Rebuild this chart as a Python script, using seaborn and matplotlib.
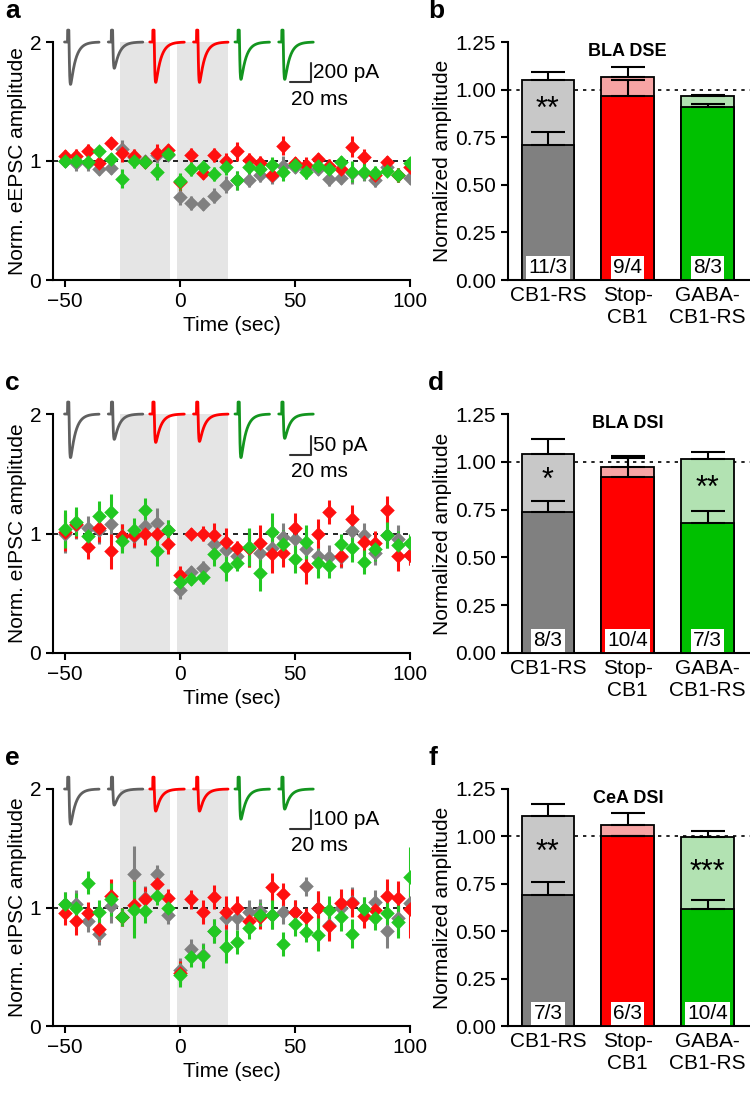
import numpy as np
import pandas as pd
import matplotlib
matplotlib.use("Agg")
import matplotlib.pyplot as plt
import seaborn as sns

sns.set_style("ticks")
plt.rcParams['font.family'] = ['Liberation Sans', 'DejaVu Sans']
plt.rcParams['text.color'] = 'black'
plt.rcParams['axes.labelcolor'] = 'black'
plt.rcParams['xtick.color'] = 'black'
plt.rcParams['ytick.color'] = 'black'
plt.rcParams['axes.edgecolor'] = 'black'

time = [-50, -45, -40, -35, -30, -25, -20, -15, -10, -5] + list(range(0, 101, 5))

# Panel a (eEPSC BLA DSE)
a_grey = [1.0,0.98,0.98,0.93,0.94,1.10,1.03,1.0,1.05,1.05, 0.70,0.65,0.64,0.71,0.80,0.84,0.84,0.88,0.87,0.96,0.95,0.93,0.93,0.85,0.86,0.90,0.90,0.84,0.95,0.88,0.86]
a_red = [1.04,1.04,1.08,0.98,1.15,1.07,1.04,0.99,1.07,1.09, 0.82,1.05,0.90,1.05,1.00,1.08,1.01,0.98,0.88,1.13,0.98,0.97,1.02,0.96,0.93,1.12,1.03,0.88,0.99,0.88,0.95]
a_green = [1.0,1.0,0.99,1.08,1.02,0.85,1.0,0.99,0.91,1.06, 0.83,0.93,0.95,0.89,0.95,0.84,0.95,0.93,0.97,0.91,0.97,0.91,0.96,0.93,0.99,0.91,0.91,0.90,0.92,0.88,0.98]
a_err = [0.05,0.06,0.06,0.05,0.05,0.08,0.06,0.05,0.07,0.05, 0.07,0.06,0.05,0.06,0.07,0.08,0.06,0.06,0.06,0.08,0.05,0.06,0.05,0.06,0.05,0.09,0.07,0.06,0.05,0.06,0.05]

# Panel c (eIPSC BLA DSI)
c_grey = [1.0,1.07,1.05,1.03,1.08,0.98,0.98,1.06,1.09,1.03, 0.53,0.68,0.71,0.91,0.86,0.81,0.88,0.84,0.88,0.97,0.95,0.87,0.81,0.80,0.80,1.02,0.99,0.84,0.99,0.95,0.82]
c_red = [1.01,1.08,0.89,1.05,0.85,0.98,0.99,1.0,1.0,0.91, 0.65,1.0,1.0,0.99,0.93,0.88,0.88,0.92,0.83,0.84,1.05,0.72,1.0,1.18,0.81,1.12,0.93,0.92,1.2,0.81,0.82]
c_green = [1.04,1.1,0.98,1.15,1.18,0.94,1.03,1.2,0.85,1.03, 0.59,0.62,0.64,0.83,0.72,0.75,0.89,0.67,1.01,0.91,0.79,0.93,0.75,0.73,0.91,0.88,0.76,0.87,0.99,0.9,0.92]
c_err = [0.16,0.12,0.1,0.12,0.15,0.1,0.1,0.1,0.12,0.08, 0.08,0.05,0.06,0.1,0.12,0.06,0.16,0.15,0.16,0.12,0.12,0.14,0.12,0.1,0.09,0.12,0.1,0.1,0.11,0.12,0.08]

# Panel e (eIPSC CeA DSI)
e_grey = [1.03,1.03,0.89,0.78,1.01,0.92,1.28,1.08,1.28,0.94, 0.47,0.65,0.60,0.80,0.91,0.91,0.96,0.97,0.94,0.96,0.96,1.18,1.0,0.85,1.0,1.05,0.99,1.05,0.80,0.91,1.04]
e_red = [0.95,0.89,0.95,0.82,1.1,0.92,1.02,1.07,1.2,1.08, 0.45,1.07,0.96,1.09,0.96,1.0,0.89,0.92,1.17,1.11,0.96,0.92,1.0,0.84,1.04,1.04,0.93,0.98,1.1,1.08,0.99]
e_green = [1.03,1.0,1.21,0.96,1.07,0.92,0.98,0.97,1.1,1.0, 0.43,0.58,0.59,0.80,0.67,0.71,0.83,0.94,0.94,0.69,0.86,0.79,0.77,0.98,0.92,0.78,0.99,0.91,0.95,0.88,1.26]
e_err = [0.1,0.12,0.1,0.1,0.14,0.08,0.24,0.1,0.08,0.08, 0.1,0.08,0.1,0.1,0.14,0.1,0.1,0.1,0.12,0.1,0.1,0.08,0.14,0.12,0.12,0.12,0.1,0.1,0.14,0.14,0.25]

groups = ["CB1-RS", "Stop-\nCB1", "GABA-\nCB1-RS"]
b_base = [1.05, 1.065, 0.965]; b_base_err = [0.045, 0.055, 0.005]
b_post = [0.71, 0.965, 0.91]; b_post_err = [0.065, 0.085, 0.015]
d_base = [1.04, 0.975, 1.015]; d_base_err = [0.08, 0.055, 0.035]
d_post = [0.735, 0.92, 0.68]; d_post_err = [0.06, 0.10, 0.065]
f_base = [1.105, 1.06, 0.995]; f_base_err = [0.065, 0.065, 0.035]
f_post = [0.69, 1.0, 0.615]; f_post_err = [0.07, 0.0, 0.05]
b_n = ["11/3", "9/4", "8/3"]; d_n = ["8/3", "10/4", "7/3"]; f_n = ["7/3", "6/3", "10/4"]
b_stars = ["**", "", ""]; d_stars = ["*", "", "**"]; f_stars = ["**", "", "***"]

a_depth = [0.42, 0.26, 0.40, 0.40, 0.37, 0.37]
c_depth = [0.43, 0.25, 0.28, 0.27, 0.43, 0.24]
e_depth = [0.35, 0.16, 0.22, 0.22, 0.30, 0.20]

gcol, rcol, grcol = "#808080", "#ff1010", "#22c822"
tr_cols = ["#606060", "#606060", "#ff0000", "#ff0000", "#13951f", "#13951f"]
dark = ["#808080", "#ff0000", "#00c000"]
light = ["#c8c8c8", "#f7a4a4", "#b2e2b2"]

FS = 15
fig = plt.figure(figsize=(7.5, 10.96), dpi=100)

def fy(top, bot):
    return [1 - bot / 1096, (bot - top) / 1096]

rows = [(42, 280), (414, 653), (789, 1026)]
ts_data = [(a_grey, a_red, a_green, a_err, "Norm. eEPSC amplitude", a_depth, "200 pA"),
           (c_grey, c_red, c_green, c_err, "Norm. eIPSC amplitude", c_depth, "50 pA"),
           (e_grey, e_red, e_green, e_err, "Norm. eIPSC amplitude", e_depth, "100 pA")]
bar_data = [(b_base, b_base_err, b_post, b_post_err, b_n, b_stars, "BLA DSE"),
            (d_base, d_base_err, d_post, d_post_err, d_n, d_stars, "BLA DSI"),
            (f_base, f_base_err, f_post, f_post_err, f_n, f_stars, "CeA DSI")]
letters = [("a", "b"), ("c", "d"), ("e", "f")]
trace_x = [-50, -31, -13, 6, 24, 43]

for i, (top, bot) in enumerate(rows):
    y0, h = fy(top, bot)
    ax = fig.add_axes([53 / 750, y0, 357 / 750, h])
    grey, red, green, err, ylab, depth, sb = ts_data[i]
    ax.axvspan(-26, -4, color="#e5e5e5", lw=0, zorder=0)
    ax.axvspan(-1, 21, color="#e5e5e5", lw=0, zorder=0)
    ax.axhline(1, color="black", ls=(0, (3, 3)), lw=1.2, zorder=1)
    for vals, col in [(grey, gcol), (red, rcol), (green, grcol)]:
        ax.errorbar(time, vals, yerr=err, fmt="none", ecolor=col, elinewidth=2.2, zorder=2)
        df = pd.DataFrame({"t": time, "v": vals})
        sns.scatterplot(data=df, x="t", y="v", ax=ax, marker="D", s=55, color=col,
                        edgecolor=col, linewidth=0, zorder=3)
    tt = np.linspace(0, 15, 200)
    for k, x0 in enumerate(trace_x):
        d = depth[k]
        yy = 2.0 - d * (np.exp(-np.clip(tt - 2, 0, None) / 2.2) - np.exp(-np.clip(tt - 2, 0, None) / 0.25)) / 0.79
        yy[(tt > 1.3) & (tt < 1.9)] = 2.1
        ax.plot(x0 + tt, yy, color=tr_cols[k], lw=2, clip_on=False, zorder=4)
    ax.plot([48, 57, 57], [1.66, 1.66, 1.82], color="#333333", lw=1.5)
    ax.text(58, 1.74, sb, fontsize=FS, va="center", ha="left")
    ax.text(48.5, 1.52, "20 ms", fontsize=FS, va="center", ha="left")
    ax.set_xlim(-55, 100)
    ax.set_ylim(0, 2)
    ax.set_xticks([-50, 0, 50, 100])
    ax.set_yticks([0, 1, 2])
    ax.set_xlabel("Time (sec)", fontsize=FS)
    ax.set_ylabel(ylab, fontsize=FS, labelpad=2)
    ax.tick_params(labelsize=FS, width=1.5, length=5)
    for s in ["left", "bottom"]:
        ax.spines[s].set_linewidth(1.5)
    sns.despine(ax=ax)
    ax.text(-0.135, 1.1, letters[i][0], transform=ax.transAxes, fontsize=19, fontweight="bold")

    bx = fig.add_axes([508 / 750, y0, 242 / 750, h])
    base, base_err, post, post_err, nlab, stars, title = bar_data[i]
    dfb = pd.DataFrame({"g": groups, "v": base})
    dfp = pd.DataFrame({"g": groups, "v": post})
    sns.barplot(data=dfb, x="g", y="v", hue="g", palette=light, ax=bx, width=0.66,
                saturation=1, edgecolor="black", linewidth=1.3, legend=False, zorder=2)
    bx.errorbar(range(3), base, yerr=[[0, 0, 0], base_err], fmt="none", ecolor="black",
                elinewidth=1.5, capsize=12, capthick=1.5, zorder=3)
    sns.barplot(data=dfp, x="g", y="v", hue="g", palette=dark, ax=bx, width=0.66,
                saturation=1, edgecolor="black", linewidth=1.3, legend=False, zorder=4)
    bx.errorbar(range(3), post, yerr=[[0, 0, 0], post_err], fmt="none", ecolor="black",
                elinewidth=1.5, capsize=12, capthick=1.5, zorder=5)
    bx.axhline(1, color="black", ls=(0, (2, 3)), lw=1.2, zorder=1)
    for k in range(3):
        bx.text(k, 0.065, nlab[k], ha="center", va="center", fontsize=FS, zorder=6,
                bbox=dict(facecolor="white", edgecolor="none", pad=1.5))
        if stars[k]:
            y_s = (base[k] + post[k] + post_err[k]) / 2 - 0.02
            bx.text(k, y_s, stars[k], ha="center", va="center", fontsize=22, zorder=6)
    bx.text(1, 1.2, title, ha="center", va="center", fontsize=13, fontweight="bold")
    bx.set_xlim(-0.5, 2.53)
    bx.set_ylim(0, 1.25)
    bx.set_yticks([0, 0.25, 0.5, 0.75, 1.0, 1.25])
    bx.set_yticklabels(["0.00", "0.25", "0.50", "0.75", "1.00", "1.25"])
    bx.set_xlabel("")
    bx.set_ylabel("Normalized amplitude", fontsize=FS, labelpad=2)
    bx.tick_params(axis="y", labelsize=FS, width=1.5, length=5)
    bx.tick_params(axis="x", labelsize=FS, length=0, pad=4)
    for s in ["left", "bottom"]:
        bx.spines[s].set_linewidth(1.5)
    sns.despine(ax=bx)
    bx.text(-0.33, 1.1, letters[i][1], transform=bx.transAxes, fontsize=19, fontweight="bold")

fig.savefig("out.png", dpi=100)
